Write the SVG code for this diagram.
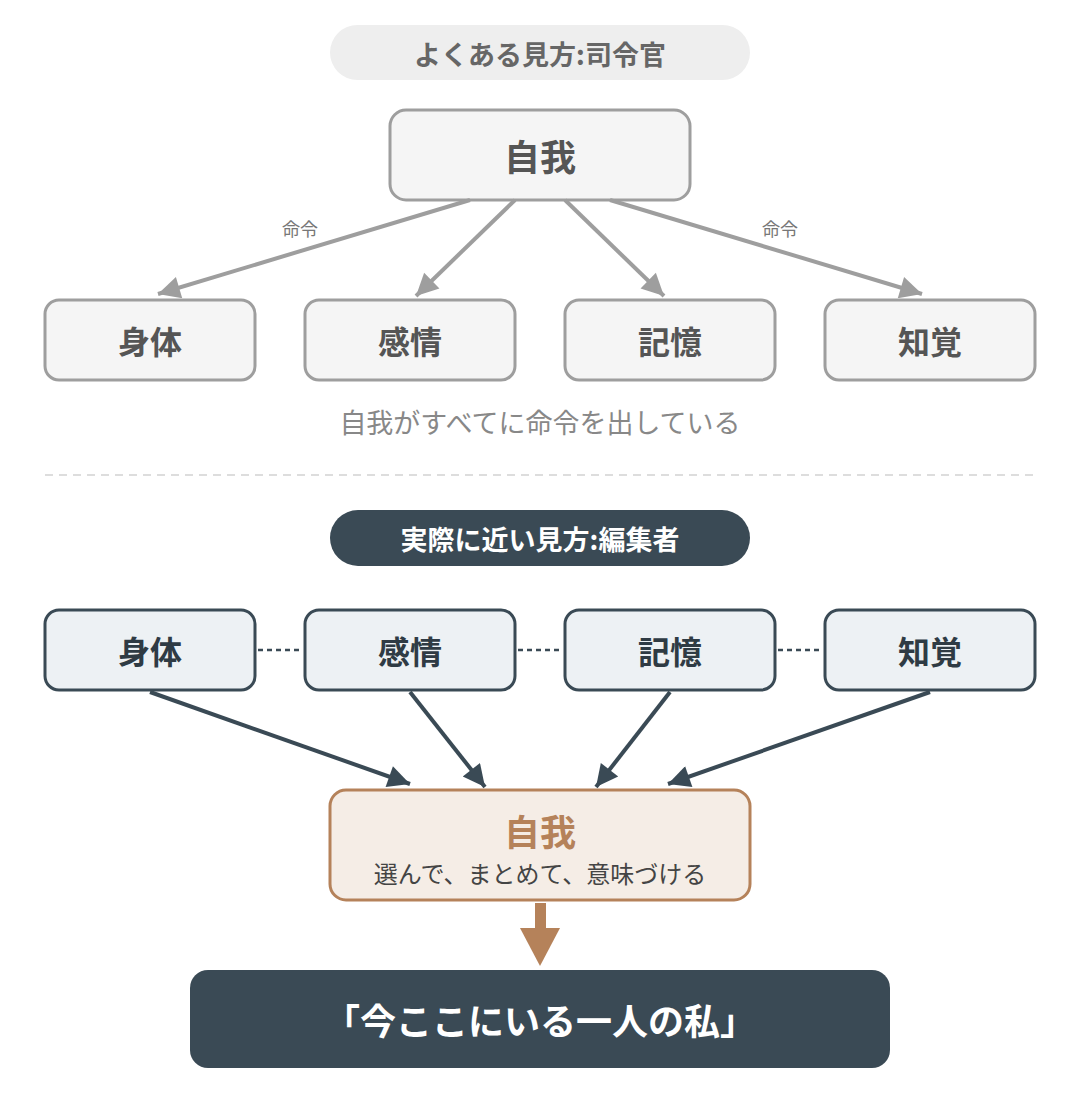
<svg xmlns="http://www.w3.org/2000/svg" width="1080" height="1100" viewBox="0 0 1080 1100">
<style>
text{font-family:"Noto Sans CJK JP","Noto Sans",sans-serif;text-anchor:middle;dominant-baseline:central}
.g{fill:#f5f5f5;stroke:#9e9e9e;stroke-width:3}
.d{fill:#edf1f4;stroke:#3a4a55;stroke-width:3}
.gt{font-size:32px;font-weight:bold;fill:#555}
.dt{font-size:32px;font-weight:bold;fill:#2f3b44}
.ga{stroke:#9e9e9e;stroke-width:4;fill:none}
.da{stroke:#3a4a55;stroke-width:4;fill:none}
</style>
<defs>
<marker id="mg" viewBox="0 0 10 10" refX="10" refY="5" markerWidth="24" markerHeight="22" markerUnits="userSpaceOnUse" orient="auto"><path d="M0,0 L10,5 L0,10 z" fill="#9e9e9e"/></marker>
<marker id="md" viewBox="0 0 10 10" refX="10" refY="5" markerWidth="24" markerHeight="22" markerUnits="userSpaceOnUse" orient="auto"><path d="M0,0 L10,5 L0,10 z" fill="#3a4a55"/></marker>
</defs>
<g id="title1"><rect x="330" y="25" width="420" height="55" rx="27.5" fill="#eeeeee"/><text x="540" y="53" font-size="27" font-weight="bold" fill="#666">よくある見方:司令官</text></g>
<g id="ego1"><rect class="g" x="390" y="110" width="300" height="90" rx="16"/><text class="gt" x="540" y="155" style="font-size:36px">自我</text></g>
<g id="connectors">
<line class="ga" x1="470" y1="200" x2="158" y2="294" marker-end="url(#mg)"/>
<line class="ga" x1="515" y1="200" x2="416" y2="296" marker-end="url(#mg)"/>
<line class="ga" x1="565" y1="200" x2="664" y2="296" marker-end="url(#mg)"/>
<line class="ga" x1="610" y1="200" x2="922" y2="294" marker-end="url(#mg)"/>
<text x="300" y="228" font-size="18" fill="#777">命令</text>
<text x="780" y="228" font-size="18" fill="#777">命令</text>
<line x1="258" y1="650" x2="302" y2="650" stroke="#3a4a55" stroke-width="2.5" stroke-dasharray="5,4"/>
<line x1="518" y1="650" x2="562" y2="650" stroke="#3a4a55" stroke-width="2.5" stroke-dasharray="5,4"/>
<line x1="778" y1="650" x2="822" y2="650" stroke="#3a4a55" stroke-width="2.5" stroke-dasharray="5,4"/>
<line class="da" x1="150" y1="692" x2="410" y2="784" marker-end="url(#md)"/>
<line class="da" x1="410" y1="692" x2="485" y2="787" marker-end="url(#md)"/>
<line class="da" x1="670" y1="692" x2="596" y2="787" marker-end="url(#md)"/>
<line class="da" x1="930" y1="692" x2="668" y2="784" marker-end="url(#md)"/>
<rect x="535" y="903" width="11" height="30" fill="#b5825a"/>
<path d="M520,928 L560,928 L540,966 z" fill="#b5825a"/>
</g>
<g id="b1"><rect class="g" x="45" y="300" width="210" height="80" rx="14"/><text class="gt" x="150" y="340">身体</text></g>
<g id="b2"><rect class="g" x="305" y="300" width="210" height="80" rx="14"/><text class="gt" x="410" y="340">感情</text></g>
<g id="b3"><rect class="g" x="565" y="300" width="210" height="80" rx="14"/><text class="gt" x="670" y="340">記憶</text></g>
<g id="b4"><rect class="g" x="825" y="300" width="210" height="80" rx="14"/><text class="gt" x="930" y="340">知覚</text></g>
<text x="540" y="421" font-size="27" fill="#888">自我がすべてに命令を出している</text>
<line x1="45" y1="475" x2="1035" y2="475" stroke="#dddddd" stroke-width="2" stroke-dasharray="8,6"/>
<g id="title2"><rect x="330" y="510" width="420" height="56" rx="28" fill="#3a4a55"/><text x="540" y="538" font-size="27" font-weight="bold" fill="#fff">実際に近い見方:編集者</text></g>
<g id="c1"><rect class="d" x="45" y="610" width="210" height="80" rx="14"/><text class="dt" x="150" y="650">身体</text></g>
<g id="c2"><rect class="d" x="305" y="610" width="210" height="80" rx="14"/><text class="dt" x="410" y="650">感情</text></g>
<g id="c3"><rect class="d" x="565" y="610" width="210" height="80" rx="14"/><text class="dt" x="670" y="650">記憶</text></g>
<g id="c4"><rect class="d" x="825" y="610" width="210" height="80" rx="14"/><text class="dt" x="930" y="650">知覚</text></g>
<g id="ego2"><rect x="330" y="790" width="420" height="110" rx="16" fill="#f5ede6" stroke="#b5825a" stroke-width="3"/><text x="540" y="830" font-size="36" font-weight="bold" fill="#b5825a">自我</text><text x="540" y="872" font-size="24" fill="#444">選んで、まとめて、意味づける</text></g>
<g id="me"><rect x="190" y="970" width="700" height="98" rx="18" fill="#3a4a55"/><text x="540" y="1019" font-size="36" font-weight="bold" fill="#fff">「今ここにいる一人の私」</text></g>
</svg>
